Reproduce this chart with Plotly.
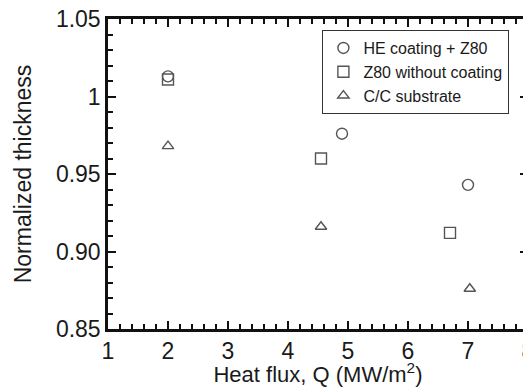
import plotly.graph_objects as go

heat_he = [2.0, 4.9, 7.0]
thick_he = [1.013, 0.976, 0.943]
heat_z80 = [2.0, 4.55, 6.7]
thick_z80 = [1.011, 0.960, 0.912]
heat_cc = [2.0, 4.55, 7.03]
thick_cc = [0.968, 0.916, 0.876]

x_range = [1, 8]
y_range = [0.85, 1.05]
y_label_alias = {"0.9": "0.90"}

FONT = "Liberation Sans, Arial, sans-serif"
TXT = "#1a1a1a"
mc = "#555555"
AX = "#111111"

fig = go.Figure()
fig.add_trace(go.Scatter(x=heat_he, y=thick_he, mode="markers", name="HE coating + Z80",
                         marker=dict(symbol="circle-open", size=11, color=mc, line=dict(width=1.4, color=mc))))
fig.add_trace(go.Scatter(x=heat_z80, y=thick_z80, mode="markers", name="Z80 without coating",
                         marker=dict(symbol="square-open", size=11, color=mc, line=dict(width=1.4, color=mc))))
fig.add_trace(go.Scatter(x=heat_cc, y=thick_cc, mode="markers", name="C/C substrate",
                         marker=dict(symbol="triangle-up-open", size=10, color=mc, line=dict(width=1.4, color=mc))))

axis_common = dict(showline=True, linecolor=AX, linewidth=2.5, mirror="ticks",
                   ticks="inside", ticklen=8, tickwidth=2, tickcolor=AX,
                   showgrid=False, zeroline=False, automargin=False,
                   ticklabeloverflow="allow",
                   tickfont=dict(size=23, color=TXT, family=FONT))
fig.update_xaxes(range=x_range, tickmode="linear", tick0=1, dtick=1,
                 minor=dict(dtick=0.2, ticks="inside", ticklen=5, tickwidth=2, tickcolor=AX, showgrid=False),
                 title=dict(text="Heat flux, Q (MW/m<sup>2</sup>)", standoff=0,
                            font=dict(size=22, color=TXT, family=FONT)),
                 **axis_common)
fig.update_yaxes(range=y_range, tickmode="linear", tick0=0.85, dtick=0.05, labelalias=y_label_alias,
                 minor=dict(dtick=0.01, ticks="inside", ticklen=5, tickwidth=2, tickcolor=AX, showgrid=False),
                 title=dict(text="Normalized thickness", standoff=18,
                            font=dict(size=23, color=TXT, family=FONT)),
                 **axis_common)
fig.update_layout(width=523, height=379, margin=dict(l=100, r=3, t=11, b=58),
                  plot_bgcolor="white", paper_bgcolor="white",
                  legend=dict(x=0.51, y=0.965, xanchor="left", yanchor="top",
                              bordercolor="#333", borderwidth=1.2, bgcolor="white",
                              font=dict(size=16, color=TXT, family=FONT),
                              itemwidth=30, tracegroupgap=0),
                  showlegend=True)
fig.write_html("out.html")
